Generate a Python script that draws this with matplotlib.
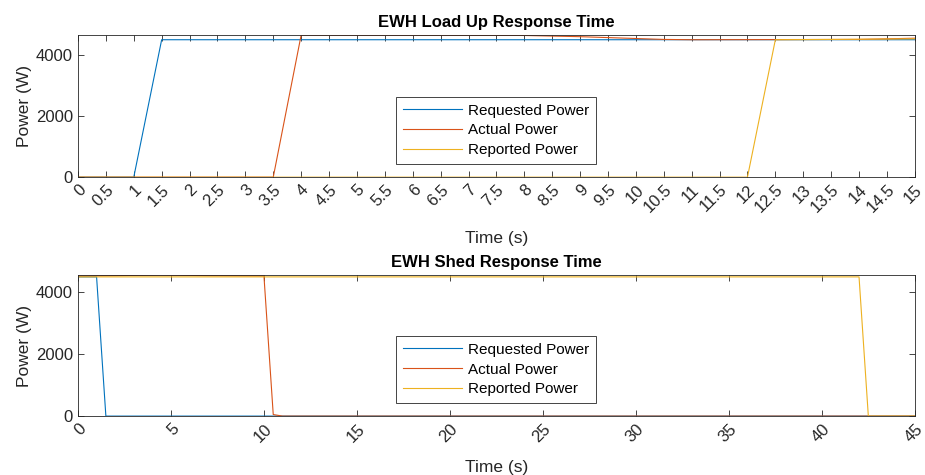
import matplotlib.pyplot as plt
import numpy as np

plt.rcParams['font.family'] = ['Liberation Sans', 'DejaVu Sans']

# load up test (time in s, power in W)
up_t_req = [0, 0.5, 1.0, 1.5, 15]
up_p_req = [0, 0, 0, 4500, 4500]
up_t_act = [0, 3.5, 4.0, 6.0, 8.0, 9.0, 10.0, 10.5, 11.0, 14.0, 15]
up_p_act = [0, 0, 4650, 4645, 4640, 4600, 4540, 4510, 4500, 4510, 4550]
up_t_rep = [0, 12.0, 12.5, 13.5, 15]
up_p_rep = [0, 0, 4500, 4510, 4530]

# shed test
sh_t_req = [0, 1.0, 1.5, 45]
sh_p_req = [4500, 4500, 0, 0]
sh_t_act = [0, 2.0, 4.5, 7.0, 10.0, 10.5, 11.0, 45]
sh_p_act = [4530, 4540, 4560, 4540, 4530, 50, 0, 0]
sh_t_rep = [0, 42.0, 42.5, 45]
sh_p_rep = [4500, 4500, 0, 0]

up_ticks = np.arange(0, 15.5, 0.5)
up_ticklabels = ['%g' % v for v in up_ticks]
sh_ticks = [0, 5, 10, 15, 20, 25, 30, 35, 40, 45]

names = ['Requested Power', 'Actual Power', 'Reported Power']
colors = ['#0072BD', '#D95319', '#EDB120']

fig = plt.figure(figsize=(9.25, 4.75), dpi=100)
ax1 = fig.add_axes([0.0843, 0.627, 0.9047, 0.299])
ax2 = fig.add_axes([0.0843, 0.124, 0.9047, 0.297])


def style(ax, title):
    ax.set_title(title, fontsize=12, fontweight='bold', pad=6)
    ax.set_xlabel('Time (s)', fontsize=12.5, color='#262626', labelpad=11)
    ax.set_ylabel('Power (W)', fontsize=12.5, color='#262626', labelpad=3)
    ax.tick_params(direction='in', top=True, right=True, labelsize=12,
                   colors='#262626', length=4, width=0.6)
    for s in ax.spines.values():
        s.set_color('#262626')
        s.set_linewidth(0.6)
    leg = ax.legend(loc='center', bbox_to_anchor=(0.4995, 0.33), fontsize=11,
                    handlelength=3.9, fancybox=False, framealpha=1,
                    borderpad=0.45, labelspacing=0.38, handletextpad=0.4,
                    borderaxespad=0)
    leg.get_frame().set_edgecolor('#262626')
    leg.get_frame().set_linewidth(0.6)


ax1.plot(up_t_req, up_p_req, color=colors[0], lw=0.8, label=names[0])
ax1.plot(up_t_act, up_p_act, color=colors[1], lw=0.8, label=names[1])
ax1.plot(up_t_rep, up_p_rep, color=colors[2], lw=0.8, label=names[2])
ax1.set_xlim(0, 15)
ax1.set_ylim(0, max(up_p_act))
ax1.set_xticks(up_ticks)
ax1.set_xticklabels(up_ticklabels, rotation=45, ha='right', rotation_mode='anchor')
ax1.set_yticks([0, 2000, 4000])
style(ax1, 'EWH Load Up Response Time')

ax2.plot(sh_t_req, sh_p_req, color=colors[0], lw=0.8, label=names[0])
ax2.plot(sh_t_act, sh_p_act, color=colors[1], lw=0.8, label=names[1])
ax2.plot(sh_t_rep, sh_p_rep, color=colors[2], lw=0.8, label=names[2])
ax2.set_xlim(0, 45)
ax2.set_ylim(0, max(sh_p_act))
ax2.set_xticks(sh_ticks)
ax2.set_xticklabels([str(v) for v in sh_ticks], rotation=45, ha='right',
                    rotation_mode='anchor')
ax2.set_yticks([0, 2000, 4000])
style(ax2, 'EWH Shed Response Time')

fig.savefig('out.png', dpi=100)
